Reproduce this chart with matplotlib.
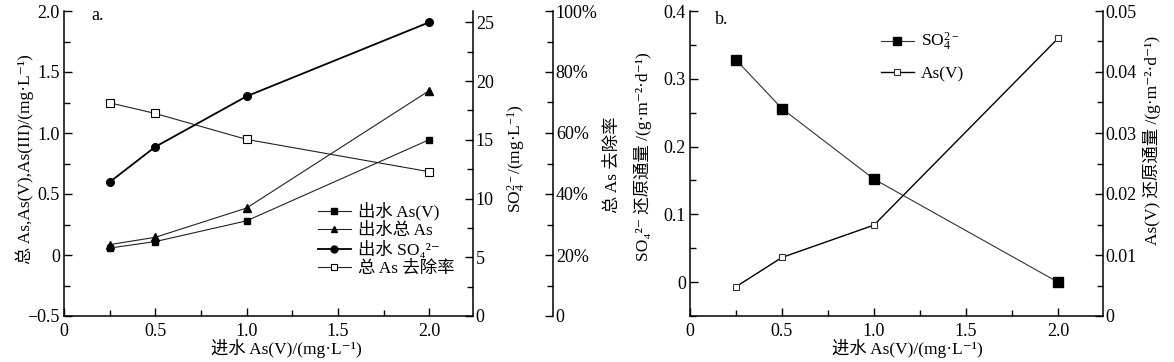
import matplotlib
matplotlib.use("Agg")
import matplotlib.pyplot as plt
from matplotlib.ticker import MultipleLocator, FuncFormatter

plt.rcParams['font.family'] = ['Liberation Serif', 'DejaVu Serif', 'Noto Sans CJK SC']
plt.rcParams['mathtext.fontset'] = 'custom'
plt.rcParams['mathtext.rm'] = 'Liberation Serif'
plt.rcParams['mathtext.it'] = 'Liberation Serif:italic'
plt.rcParams['axes.unicode_minus'] = True
FS = 13
LFS = 12.5

# ---- data: panel a ----
influent_a = [0.25, 0.5, 1.0, 2.0]
eff_asv = [0.057, 0.11, 0.28, 0.945]
eff_total_as = [0.085, 0.145, 0.385, 1.347]
eff_so4 = [11.4, 14.4, 18.7, 25.0]
removal_pct = [69.9, 66.4, 57.9, 47.3]

# ---- data: panel b ----
influent_b = [0.25, 0.5, 1.0, 2.0]
so4_flux = [0.328, 0.256, 0.152, 0.0]
asv_flux = [0.0048, 0.0096, 0.0149, 0.0455]

W, H = 1174, 362
fig = plt.figure(figsize=(W / 100, H / 100), dpi=100)

def fmt_num(dec):
    def f(v, pos):
        if abs(v) < 1e-12:
            return '0'
        s = f'{v:.{dec}f}'
        return s.replace('-', '\u2212')
    return FuncFormatter(f)

def style(ax):
    ax.tick_params(which='both', direction='in', labelsize=FS, width=1.0)
    ax.tick_params(which='major', length=6)
    ax.tick_params(which='minor', length=4.5)
    for s in ax.spines.values():
        s.set_linewidth(1.1)

def ylab(ax, text, xpix, ax_left, ax_w, ypix=160):
    lab = ax.set_ylabel(text, fontsize=LFS)
    lab.set_verticalalignment('center')
    lab.set_horizontalalignment('center')
    ax.yaxis.set_label_coords((xpix - ax_left) / ax_w, (316 - ypix) / 305)

def xlab(ax, text, xpix, ypix, ax_left, ax_w):
    lab = ax.set_xlabel(text, fontsize=LFS)
    lab.set_verticalalignment('center')
    ax.xaxis.set_label_coords((xpix - ax_left) / ax_w, (316 - ypix) / 305)

GREY = '#222222'

# ================= panel a =================
axa = fig.add_axes([64 / W, (H - 316) / H, 409 / W, 305 / H])
axa.set_xlim(0, 2.24)
axa.set_ylim(-0.5, 2.0)
axa.spines['top'].set_visible(False)
axa.spines['right'].set_visible(False)
axa.xaxis.set_major_locator(MultipleLocator(0.5))
axa.xaxis.set_minor_locator(MultipleLocator(0.25))
axa.yaxis.set_major_locator(MultipleLocator(0.5))
axa.yaxis.set_minor_locator(MultipleLocator(0.25))
axa.xaxis.set_major_formatter(fmt_num(1))
axa.yaxis.set_major_formatter(fmt_num(1))
style(axa)
axa.tick_params(axis='x', pad=5)
axa.tick_params(axis='y', pad=3)

l1, = axa.plot(influent_a, eff_asv, '-', color=GREY, lw=0.8, marker='s', ms=5, mfc='black', mec='black')
l2, = axa.plot(influent_a, eff_total_as, '-', color=GREY, lw=0.8, marker='^', ms=5.5, mfc='black', mec='black')

axs = axa.twinx()
axs.set_ylim(0, 25.96)
for k in ['top', 'left', 'bottom']:
    axs.spines[k].set_visible(False)
axs.yaxis.set_major_locator(MultipleLocator(5))
axs.yaxis.set_minor_locator(MultipleLocator(2.5))
axs.yaxis.set_major_formatter(fmt_num(0))
style(axs)
axs.tick_params(axis='y', pad=2)
l3, = axs.plot(influent_a, eff_so4, '-', color='black', lw=1.3, marker='o', ms=5.5, mfc='black', mec='black')

axp = axa.twinx()
axp.set_ylim(0, 100)
axp.spines['right'].set_position(('axes', (553 - 64) / 409))
for k in ['top', 'left', 'bottom']:
    axp.spines[k].set_visible(False)
axp.yaxis.set_major_locator(MultipleLocator(20))
axp.yaxis.set_minor_locator(MultipleLocator(10))
axp.yaxis.set_major_formatter(FuncFormatter(lambda v, p: '0' if v == 0 else f'{v:.0f}%'))
style(axp)
axp.tick_params(axis='y', pad=2)
l4, = axp.plot(influent_a, removal_pct, '-', color=GREY, lw=0.8, marker='s', ms=5.5, mfc='white', mec='black', mew=0.8)

ylab(axa, '总 As,As(V),As(III)/(mg·L⁻¹)', 25, 64, 409, 159)
xlab(axa, '进水 As(V)/(mg·L⁻¹)', 286, 349, 64, 409)
ylab(axs, 'SO$_4^{2-}$/(mg·L$^{-1}$)', 517, 64, 409, 159)
ylab(axp, '总 As 去除率', 613, 64, 409, 165)

axa.text((98 - 64) / 409, (316 - 15) / 305, 'a.', transform=axa.transAxes, fontsize=FS, va='center', ha='center')

axa.legend([l1, l2, l3, l4], ['出水 As(V)', '出水总 As', '出水 SO₄²⁻', '总 As 去除率'],
           loc='upper left', bbox_to_anchor=((318 - 64) / 409, (316 - 202) / 305),
           frameon=False, fontsize=LFS, handlelength=1.9, handletextpad=0.4,
           labelspacing=0.12, borderpad=0, borderaxespad=0, markerscale=0.9)

# ================= panel b =================
axb = fig.add_axes([690 / W, (H - 316) / H, 413 / W, 305 / H])
axb.set_xlim(0, 2.245)
axb.set_ylim(-0.05, 0.4)
axb.spines['top'].set_visible(False)
axb.spines['right'].set_visible(False)
axb.xaxis.set_major_locator(MultipleLocator(0.5))
axb.xaxis.set_minor_locator(MultipleLocator(0.25))
axb.yaxis.set_major_locator(MultipleLocator(0.1))
axb.yaxis.set_minor_locator(MultipleLocator(0.05))
axb.xaxis.set_major_formatter(fmt_num(1))
axb.yaxis.set_major_formatter(fmt_num(1))
style(axb)
axb.tick_params(axis='x', pad=5)
axb.tick_params(axis='y', pad=3)
m1, = axb.plot(influent_b, so4_flux, '-', color='#333333', lw=0.8, marker='s', ms=6.5, mfc='black', mec='black')

axr = axb.twinx()
axr.set_ylim(0, 0.05)
for k in ['top', 'left', 'bottom']:
    axr.spines[k].set_visible(False)
axr.yaxis.set_major_locator(MultipleLocator(0.01))
axr.yaxis.set_minor_locator(MultipleLocator(0.005))
axr.yaxis.set_major_formatter(fmt_num(2))
style(axr)
axr.tick_params(axis='y', pad=2)
m2, = axr.plot(influent_b, asv_flux, '-', color='black', lw=1.0, marker='s', ms=5, mfc='white', mec='#333333', mew=0.8)

ylab(axb, 'SO₄²⁻ 还原通量 /(g·m⁻²·d⁻¹)', 643, 690, 413, 157)
xlab(axb, '进水 As(V)/(mg·L⁻¹)', 907, 349, 690, 413)
ylab(axr, 'As(V) 还原通量 /(g·m⁻²·d⁻¹)', 1152, 690, 413, 140)

axb.text((722 - 690) / 413, (316 - 20) / 305, 'b.', transform=axb.transAxes, fontsize=FS, va='center', ha='center')

axb.legend([m1, m2], ['SO$_4^{2-}$', 'As(V)'],
           loc='upper left', bbox_to_anchor=((881 - 690) / 413, (316 - 31) / 305),
           frameon=False, fontsize=LFS, handlelength=1.9, handletextpad=0.4,
           labelspacing=0.75, borderpad=0, borderaxespad=0, markerscale=0.85)

fig.savefig('out.png', dpi=100)
